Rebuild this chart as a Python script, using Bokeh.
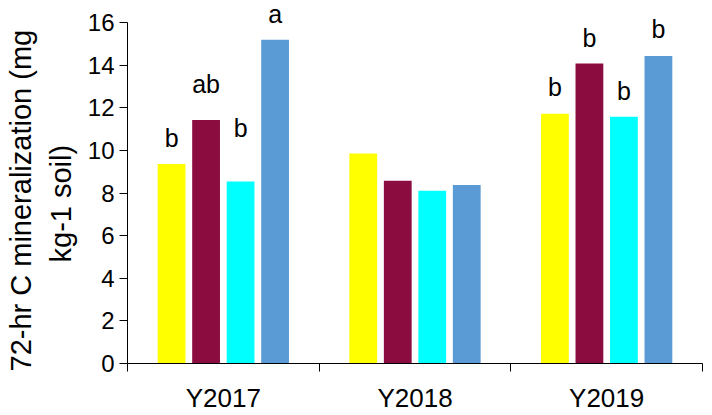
from bokeh.plotting import figure
from bokeh.models import (FactorRange, Range1d, FixedTicker,
                          ColumnDataSource, LabelSet, Title)
from bokeh.core.properties import value
from bokeh.transform import dodge
from bokeh.embed import file_html
from bokeh.resources import INLINE

# ---------------- data ----------------
years = ["Y2017", "Y2018", "Y2019"]
series_names = ["s1", "s2", "s3", "s4"]
s1 = [9.37, 9.86, 11.73]    # yellow
s2 = [11.43, 8.58, 14.09]   # crimson
s3 = [8.55, 8.11, 11.59]    # cyan
s4 = [15.20, 8.38, 14.44]   # blue
letters = {
    "s1": ["b", "", "b"],
    "s2": ["ab", "", "b"],
    "s3": ["b", "", "b"],
    "s4": ["a", "", "b"],
}
letter_y = {
    "s1": [10.17, 0, 12.56],
    "s2": [12.70, 0, 14.86],
    "s3": [10.64, 0, 12.37],
    "s4": [15.97, 0, 15.30],
}
y_ticks = [0, 2, 4, 6, 8, 10, 12, 14, 16]
y_label_lines = ["72-hr C mineralization (mg", "kg-1 soil)"]

colors = ["#FFFF00", "#8B0C3F", "#00FFFF", "#5B9BD5"]
FONT = "Liberation Sans"

values = {"s1": s1, "s2": s2, "s3": s3, "s4": s4}

# categorical mapping of years onto a numeric axis (0..3)
cats = FactorRange(factors=years)

p = figure(x_range=Range1d(0, len(years)), y_range=Range1d(0, 17),
           width=712, height=415,
           toolbar_location=None, output_backend="svg",
           min_border_left=127, min_border_right=10,
           min_border_top=1, min_border_bottom=51)

bar_w = 0.145
step = 0.18
n = len(series_names)
for i, name in enumerate(series_names):
    off = (i - (n - 1) / 2) * step
    src = ColumnDataSource(dict(year=years, top=values[name]))
    p.vbar(x=dodge("year", off, range=cats), top="top", width=bar_w,
           source=src, fill_color=colors[i], line_color=None)
    keep = [j for j, t in enumerate(letters[name]) if t]
    lsrc = ColumnDataSource(dict(year=[years[j] for j in keep],
                                 y=[letter_y[name][j] for j in keep],
                                 text=[letters[name][j] for j in keep]))
    p.add_layout(LabelSet(x=dodge("year", off, range=cats), y="y",
                          text="text", source=lsrc, text_align="center",
                          text_baseline="alphabetic", text_font=value(FONT),
                          text_font_size="25px", text_color="black"))

# x axis: labels at category centres, ticks at boundaries
xa = p.xaxis[0]
xa.ticker = FixedTicker(ticks=[k + 0.5 for k in range(len(years))],
                        minor_ticks=list(range(len(years) + 1)))
xa.major_label_overrides = {k + 0.5: y for k, y in enumerate(years)}
xa.major_tick_out = 0
xa.major_tick_in = 0
xa.minor_tick_out = 8
xa.minor_tick_in = 0
xa.major_label_standoff = 11
xa.major_label_text_font = FONT
xa.major_label_text_font_size = "26px"
xa.major_label_text_color = "black"
xa.axis_line_color = "black"
xa.minor_tick_line_color = "black"

ya = p.yaxis[0]
ya.ticker = FixedTicker(ticks=y_ticks)
ya.bounds = (y_ticks[0], y_ticks[-1])
ya.major_tick_out = 8
ya.major_tick_in = 0
ya.minor_tick_out = 0
ya.minor_tick_in = 0
ya.major_label_standoff = 5
ya.major_label_text_font = FONT
ya.major_label_text_font_size = "24px"
ya.major_label_text_color = "black"
ya.axis_line_color = "black"
ya.major_tick_line_color = "black"

# two-line y-axis title (inner line added first)
t2 = Title(text=y_label_lines[1], align="left", offset=101, standoff=16,
           text_font=FONT, text_font_size="29px", text_font_style="normal",
           text_color="black")
t1 = Title(text=y_label_lines[0], align="left", offset=-8, standoff=-4,
           text_font=FONT, text_font_size="29px", text_font_style="normal",
           text_color="black")
p.add_layout(t2, "left")
p.add_layout(t1, "left")

p.grid.grid_line_color = None
p.outline_line_color = None

open("out.html", "w").write(file_html(p, INLINE))
